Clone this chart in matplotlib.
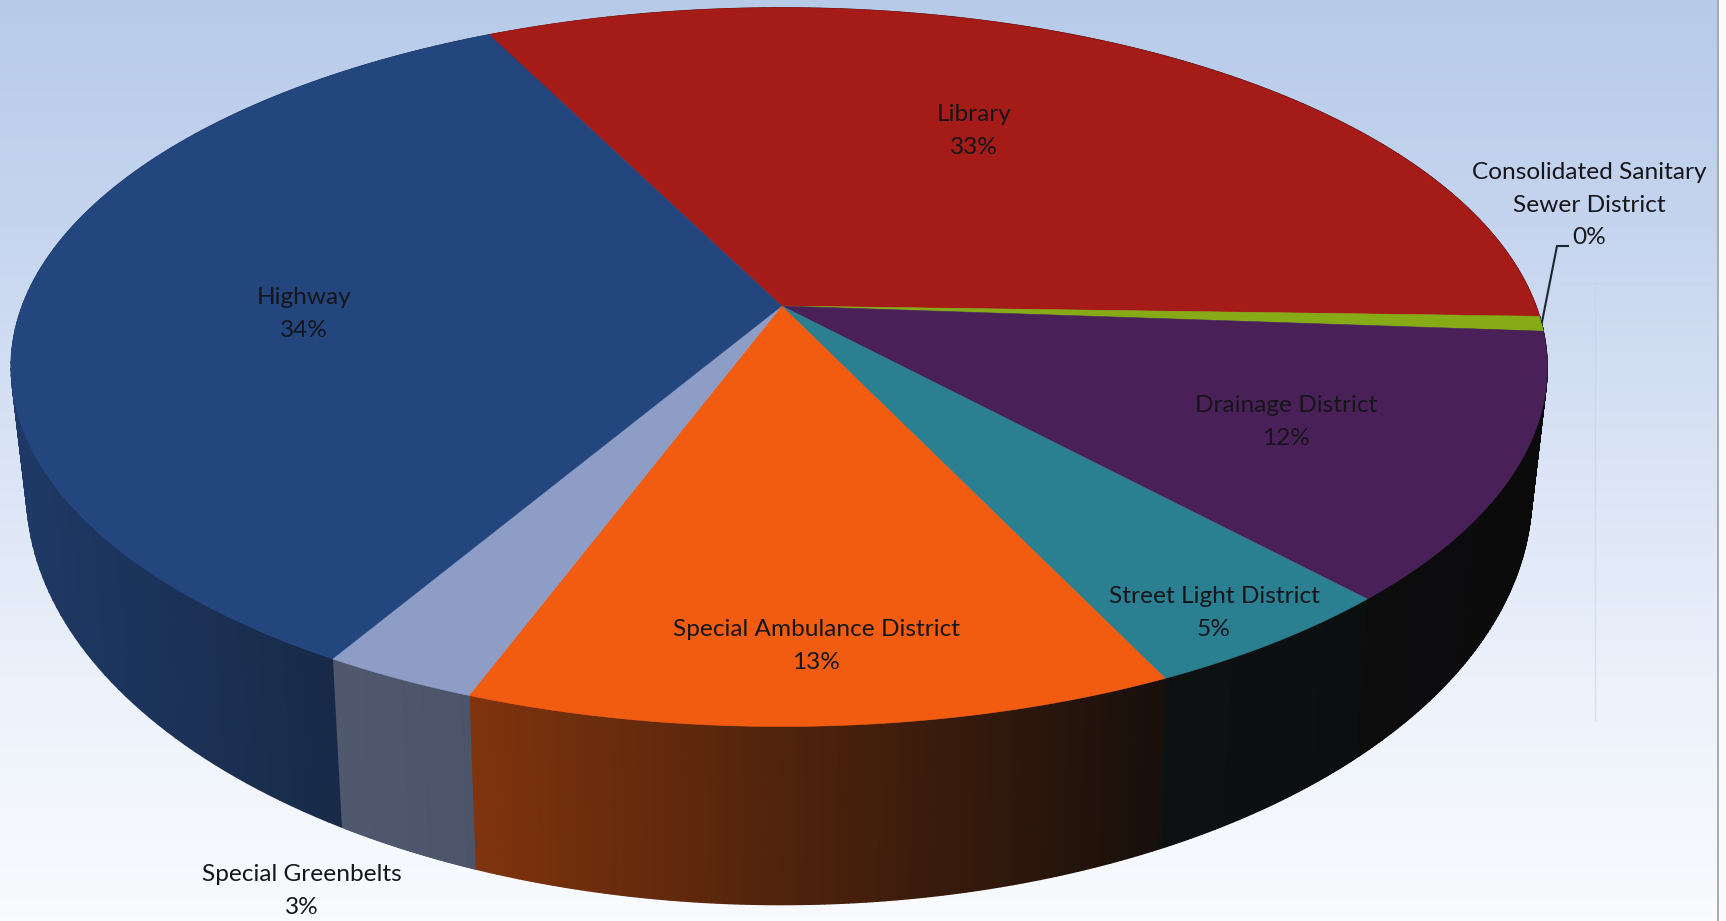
import numpy as np
import matplotlib
matplotlib.use("Agg")
import matplotlib.pyplot as plt
from matplotlib.colors import LinearSegmentedColormap

# slices clockwise from the Library/Highway edge
names = ["Library", "Consolidated Sanitary\nSewer District", "Drainage District",
         "Street Light District", "Special Ambulance District", "Special Greenbelts", "Highway"]
shares = [32.8, 0.67, 12.0, 4.8, 12.7, 2.8, 34.23]
percent_labels = ["33%", "0%", "12%", "5%", "13%", "3%", "34%"]
colors = ["#a51b17", "#86ab17", "#4a2058", "#2a7f90", "#f25c10", "#8d9dc6", "#24467f"]
start_angle = 116.4

# label centres, in pixels of the picture
label_x = [974, 1589, 1286, 1214, 816, 302, 304]
label_y = [131, 205, 422, 613, 646, 891, 314]

# projection of the tilted disc
CX, CY = 781.6, 306.0
RADIUS, TILT, PERSP = 757.0, 349.0, 0.17


def top_xy(theta):
    X, Y = np.cos(theta), np.sin(theta)
    w = 1 + PERSP * Y
    return CX + RADIUS * X / w - 2.5 * X ** 2, CY - TILT * Y / w


def bottom_xy(theta):
    x, y = top_xy(theta)
    return CX + (x - CX) * 0.98, 1.148 * y + 70.8


def wall_shade(x):
    return np.interp(x, [20, 330, 480, 1160, 1550], [0.78, 0.53, 0.50, 0.06, 0.01])


fig = plt.figure(figsize=(17.26, 9.21), dpi=100)
ax = fig.add_axes([0, 0, 1, 1])

# scanned page background
bg = LinearSegmentedColormap.from_list("bg", ["#b7cbe9", "#c6d5ef", "#dae4f6", "#edf2fb", "#f9fbfe"])
ax.imshow(np.linspace(0, 1, 256).reshape(-1, 1), cmap=bg, extent=[0, 1718, 921, 0],
          aspect="auto", zorder=0)
ax.fill_between([1718, 1726], 0, 921, color="#fafafa", lw=0, zorder=0.5)
ax.plot([1718, 1718], [0, 921], color="#9a9fa8", lw=1.2, zorder=0.6)
ax.plot([1595, 1595], [283, 720], color="#c4d0e8", lw=1.0, alpha=0.5, zorder=0.6)
ax.plot([1560, 1716], [283, 283], color="#c4d0e8", lw=1.0, alpha=0.5, zorder=0.6)
ax.set_xlim(0, 1726)
ax.set_ylim(921, 0)
ax.axis("off")

edges = start_angle - np.cumsum([0] + shares) * 3.6
edges[-1] = start_angle - 360

# walls first, the top discs cover whatever is behind them
for i, c in enumerate(colors):
    cmap = LinearSegmentedColormap.from_list("wall", ["#0b0b0b", c])
    t = np.radians(np.linspace(edges[i], edges[i + 1], 120))
    xt, yt = top_xy(t)
    xb, yb = bottom_xy(t)
    shade = wall_shade(xt)
    ax.pcolormesh(np.vstack([xt, xb]), np.vstack([yt, yb]), np.vstack([shade, shade]),
                  cmap=cmap, vmin=0, vmax=1, shading="gouraud", zorder=2)

for i, c in enumerate(colors):
    t = np.radians(np.linspace(edges[i], edges[i + 1], 200))
    x, y = top_xy(t)
    ax.fill(np.r_[CX, x], np.r_[CY, y], color=c, lw=0.4, zorder=3)

for name, pct, x, y in zip(names, percent_labels, label_x, label_y):
    ax.text(x, y, name + "\n" + pct, ha="center", va="center", fontsize=17.6, family="Lato",
            color="#15151a", linespacing=1.65, zorder=5)

# leader of the small slice
ax.plot([1542, 1557, 1568], [322, 246, 246], color="#1d2530", lw=1.5, zorder=4)

fig.savefig("out.png", dpi=100)
